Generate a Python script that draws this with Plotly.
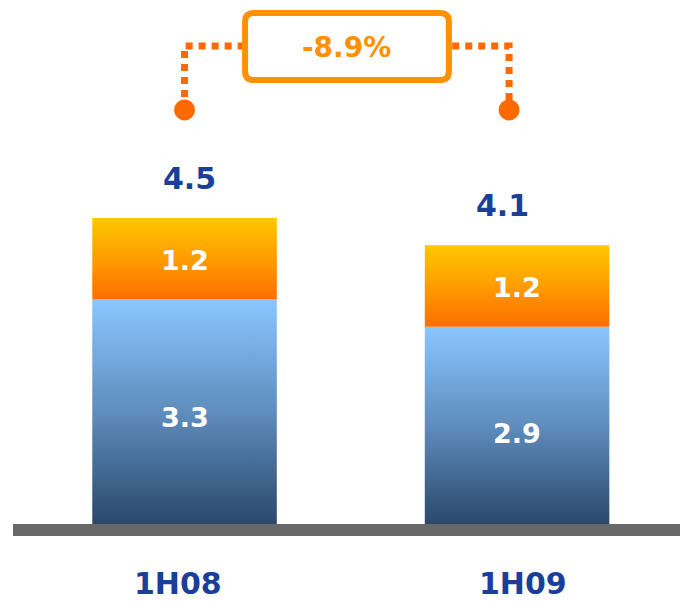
import plotly.graph_objects as go

PERIODS = ['1H08', '1H09']
BASE_VALUES = [3.3, 2.9]
TOP_VALUES = [1.2, 1.2]
TOTALS = [4.5, 4.1]

COLORS = {
    'navy_text'   : '#1a3f9a',
    'orange_line' : '#ff6a00',
    'orange_box'  : '#ff9100',
    'baseline'    : '#686868',
}
BLUE_SCALE = [[0, '#2a486c'], [0.5, '#5f8dbd'], [1, '#8ac6ff']]
ORANGE_SCALE = [[0, '#ff6e00'], [0.5, '#ff9c00'], [1, '#ffc800']]

BAR_WIDTH = 0.555
FONT = 'DejaVu Sans'

# small hand offsets (px) to sit the labels like the original slide
TOTAL_XSHIFT = [5, -15]
PERIOD_XSHIFT = [-7, 6]
BASE_YSHIFT = [-6, -8]
TOP_YSHIFT = [-2, -1]


def bar_segment(i, base, height, scale):
    x0, x1 = i - BAR_WIDTH / 2, i + BAR_WIDTH / 2
    y0, y1 = base, base + height
    return go.Scatter(
        x=[x0, x1, x1, x0, x0], y=[y0, y0, y1, y1, y0],
        mode='lines', fill='toself', line=dict(width=0),
        fillgradient=dict(type='vertical', colorscale=scale),
        hoverinfo='skip', showlegend=False
    )


def rounded_rect(x0, x1, y0, y1, rx, ry):
    return (f'M {x0 + rx},{y0} L {x1 - rx},{y0} Q {x1},{y0} {x1},{y0 + ry} '
            f'L {x1},{y1 - ry} Q {x1},{y1} {x1 - rx},{y1} '
            f'L {x0 + rx},{y1} Q {x0},{y1} {x0},{y1 - ry} '
            f'L {x0},{y0 + ry} Q {x0},{y0} {x0 + rx},{y0} Z')


fig = go.Figure()

for i in range(len(PERIODS)):
    fig.add_trace(bar_segment(i, 0, BASE_VALUES[i], BLUE_SCALE))
    fig.add_trace(bar_segment(i, BASE_VALUES[i], TOP_VALUES[i], ORANGE_SCALE))

# bracket comparing the two totals
left_x, right_x = 0, 0.976
dot_y, top_y = 6.09, 7.03
box_x0, box_x1, box_y0, box_y1 = 0.182, 0.795, 6.53, 7.515
dotted = dict(color=COLORS['orange_line'], width=7, dash='7px,6px')
fig.add_trace(go.Scatter(
    x=[left_x, left_x, box_x0], y=[dot_y, top_y, top_y], mode='lines',
    line=dotted, hoverinfo='skip', showlegend=False
))
fig.add_trace(go.Scatter(
    x=[box_x1 + 0.01, right_x, right_x], y=[top_y, top_y, dot_y], mode='lines',
    line=dotted, hoverinfo='skip', showlegend=False
))
fig.add_trace(go.Scatter(
    x=[left_x, right_x], y=[dot_y, dot_y], mode='markers',
    marker=dict(color=COLORS['orange_line'], size=21),
    hoverinfo='skip', showlegend=False
))
fig.add_shape(
    type='path',
    path=rounded_rect(box_x0, box_x1, box_y0, box_y1, 0.027, 0.13),
    line=dict(color=COLORS['orange_box'], width=6),
    fillcolor='white', layer='above'
)
change = (TOTALS[1] - TOTALS[0]) / TOTALS[0] * 100
fig.add_annotation(
    x=(box_x0 + box_x1) / 2, y=(box_y0 + box_y1) / 2,
    text=f'{change:.1f}%', showarrow=False, yshift=-1,
    font=dict(family=FONT, size=28, color=COLORS['orange_box'], weight='bold')
)

# value labels
for i, period in enumerate(PERIODS):
    fig.add_annotation(
        x=i, y=BASE_VALUES[i] / 2, text=f'{BASE_VALUES[i]:.1f}', showarrow=False,
        yshift=BASE_YSHIFT[i],
        font=dict(family=FONT, size=27, color='white', weight='bold')
    )
    fig.add_annotation(
        x=i, y=BASE_VALUES[i] + TOP_VALUES[i] / 2, text=f'{TOP_VALUES[i]:.1f}',
        showarrow=False, yshift=TOP_YSHIFT[i],
        font=dict(family=FONT, size=27, color='white', weight='bold')
    )
    fig.add_annotation(
        x=i, y=TOTALS[i], text=f'{TOTALS[i]:.1f}', showarrow=False,
        xshift=TOTAL_XSHIFT[i], yshift=40,
        font=dict(family=FONT, size=30, color=COLORS['navy_text'], weight='bold')
    )
    fig.add_annotation(
        x=i, y=0, text=period, showarrow=False,
        xshift=PERIOD_XSHIFT[i], yshift=-59,
        font=dict(family=FONT, size=30, color=COLORS['navy_text'], weight='bold')
    )

fig.add_shape(
    type='rect', xref='paper', yref='y',
    x0=13 / 680, x1=1, y0=0, y1=-0.176,
    line=dict(width=0), fillcolor=COLORS['baseline'], layer='above'
)

fig.update_layout(
    width=680, height=601,
    margin=dict(l=0, r=0, t=0, b=0),
    paper_bgcolor='white', plot_bgcolor='white',
    showlegend=False,
    xaxis=dict(range=[-0.555, 1.490], visible=False, fixedrange=True),
    yaxis=dict(range=[-1.132, 7.706], visible=False, fixedrange=True),
)

# drop the page's default body margin so the 680x601 figure fills the window
fig.write_html(
    'out.html',
    config={'displayModeBar': False},
    post_script="document.body.style.margin='0';document.body.style.overflow='hidden';"
)
